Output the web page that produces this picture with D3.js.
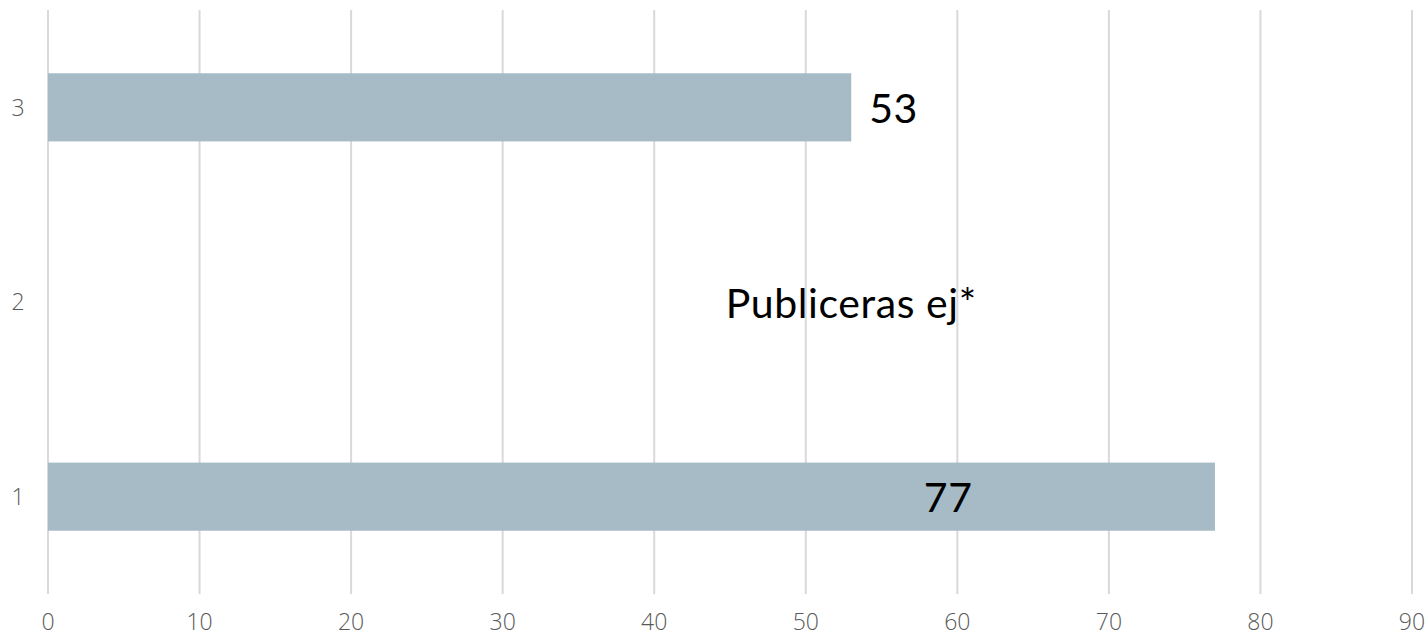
<!DOCTYPE html>
<html>
<head>
<meta charset="utf-8">
<script src="https://cdn.jsdelivr.net/npm/d3@7"></script>
<style>
  body { margin: 0; background: #fff; }
  svg { display: block; }
</style>
</head>
<body>
<svg id="chart"></svg>
<script>
// data
const categories = ["3", "2", "1"];
const values = [53, null, 77];
const valueLabels = ["53", "Publiceras ej*", "77"];
const xTicks = [0, 10, 20, 30, 40, 50, 60, 70, 80, 90];

const width = 1428, height = 637;
const margin = {top: 10, right: 16, bottom: 43, left: 48};

const svg = d3.select("#chart")
    .attr("width", width)
    .attr("height", height);

const x = d3.scaleLinear()
    .domain([0, 90])
    .range([margin.left, width - margin.right]);

const y = d3.scaleBand()
    .domain(categories)
    .range([margin.top, height - margin.bottom])
    .paddingInner(0.65)
    .paddingOuter(0.325);

// gridlines
svg.append("g")
    .selectAll("line")
    .data(xTicks)
    .join("line")
    .attr("x1", d => x(d)).attr("x2", d => x(d))
    .attr("y1", margin.top).attr("y2", height - margin.bottom)
    .attr("stroke", "#d9d9d9")
    .attr("stroke-width", 2);

// x tick labels
svg.append("g")
    .selectAll("text")
    .data(xTicks)
    .join("text")
    .attr("x", d => x(d))
    .attr("y", 630)
    .attr("text-anchor", "middle")
    .style("font-family", "'Open Sans', sans-serif")
    .style("font-weight", 300)
    .style("font-size", "23px")
    .style("fill", "#595959")
    .text(d => d);

// y labels
svg.append("g")
    .selectAll("text")
    .data(categories)
    .join("text")
    .attr("x", 18)
    .attr("y", d => y(d) + y.bandwidth() / 2)
    .attr("dy", "0.36em")
    .attr("text-anchor", "middle")
    .style("font-family", "'Open Sans', sans-serif")
    .style("font-weight", 300)
    .style("font-size", "23px")
    .style("fill", "#595959")
    .text(d => d);

const rows = categories.map((c, i) => ({cat: c, value: values[i], label: valueLabels[i]}));

// bars
svg.append("g")
    .selectAll("rect")
    .data(rows.filter(d => d.value != null))
    .join("rect")
    .attr("x", x(0))
    .attr("y", d => y(d.cat))
    .attr("width", d => x(d.value) - x(0))
    .attr("height", y.bandwidth())
    .attr("fill", "#a7bbc6");

// value labels (positions as in the original, manually placed)
function labelX(d) {
    if (d.value == null) return x(53);
    if (d.value > 60) return x(59.4);
    return x(d.value) + 18;
}
function labelAnchor(d) {
    return d.value == null || d.value > 60 ? "middle" : "start";
}

svg.append("g")
    .selectAll("text")
    .data(rows)
    .join("text")
    .attr("x", d => labelX(d))
    .attr("y", d => y(d.cat) + y.bandwidth() / 2)
    .attr("dy", "0.38em")
    .attr("text-anchor", d => labelAnchor(d))
    .style("font-family", "'Lato', sans-serif")
    .style("font-size", "41px")
    .style("letter-spacing", "0.6px")
    .style("fill", "#000")
    .text(d => d.label);
</script>
</body>
</html>
